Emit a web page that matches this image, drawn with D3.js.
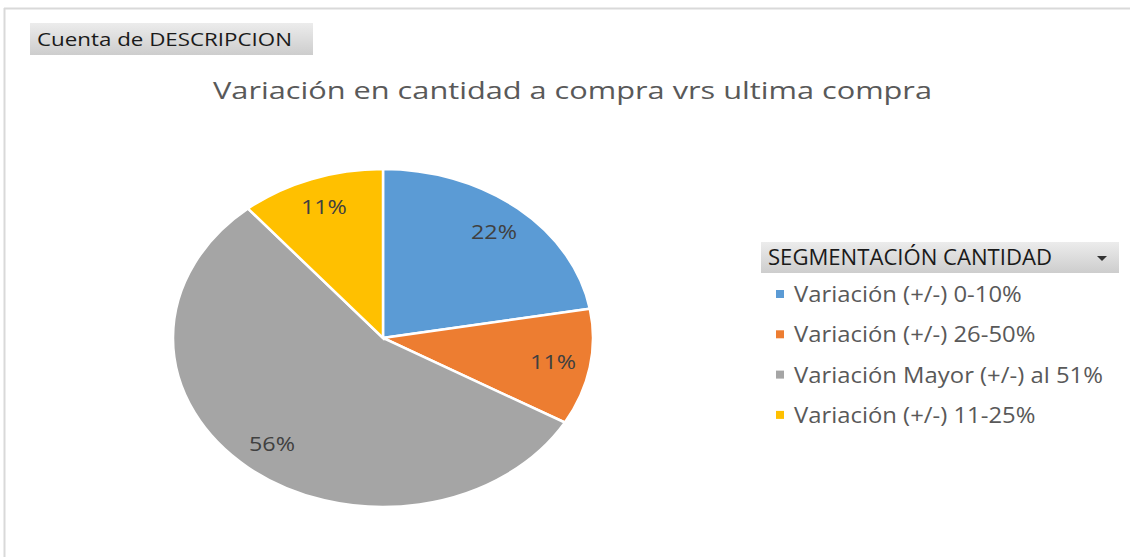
<!DOCTYPE html>
<html><head><meta charset="utf-8">
<script src="https://cdn.jsdelivr.net/npm/d3@7"></script>
<style>html,body{margin:0;padding:0;background:#fff;}svg{display:block;}</style>
</head><body>
<script>
const categories = ["Variación (+/-) 0-10%", "Variación (+/-) 26-50%", "Variación Mayor (+/-) al 51%", "Variación (+/-) 11-25%"];
const counts = [2, 1, 5, 1];
const colors = ["#5B9BD5", "#ED7D31", "#A5A5A5", "#FFC000"];
const chartTitle = "Variación en cantidad a compra vrs ultima compra";
const fieldLabel = "Cuenta de DESCRIPCION";
const legendTitle = "SEGMENTACIÓN CANTIDAD";

const W = 1130, H = 557;
const svg = d3.select("body").append("svg").attr("width", W).attr("height", H);
const defs = svg.append("defs");
const g1 = defs.append("linearGradient").attr("id","btn").attr("x1",0).attr("y1",0).attr("x2",0).attr("y2",1);
g1.append("stop").attr("offset","0%").attr("stop-color","#ececec");
g1.append("stop").attr("offset","100%").attr("stop-color","#cdcdcd");

// frame
svg.append("line").attr("x1",4).attr("x2",W).attr("y1",8.5).attr("y2",8.5).attr("stroke","#d9d9d9").attr("stroke-width",2);
svg.append("line").attr("x1",4.5).attr("x2",4.5).attr("y1",8).attr("y2",H).attr("stroke","#d9d9d9").attr("stroke-width",2);

const font = "'Open Sans', 'Noto Sans', sans-serif";

// field button
svg.append("rect").attr("x",30).attr("y",23).attr("width",283).attr("height",32).attr("fill","url(#btn)");
svg.append("text").attr("x",37).attr("y",46).attr("font-family",font).attr("font-size",18)
  .attr("fill","#1a1a1a").attr("textLength",255).attr("lengthAdjust","spacingAndGlyphs").text(fieldLabel);

// title
svg.append("text").attr("x",213).attr("y",99).attr("font-family",font).attr("font-size",24)
  .attr("fill","#595959").attr("textLength",719).attr("lengthAdjust","spacingAndGlyphs").text(chartTitle);

// pie
const cx = 383, cy = 338, ry = 169, rx = 210, sx = rx / ry;
const pie = d3.pie().sort(null).value(d => d)(counts);
const arc = d3.arc().innerRadius(0).outerRadius(ry);
const labelArc = d3.arc().innerRadius(139).outerRadius(139);
const total = d3.sum(counts);
const pg = svg.append("g").attr("transform", `translate(${cx},${cy}) scale(${sx},1)`);
pg.selectAll("path").data(pie).join("path")
  .attr("d", arc).attr("fill", (d,i) => colors[i])
  .attr("stroke","#fff").attr("stroke-width",2.5).attr("vector-effect","non-scaling-stroke");

svg.append("g").selectAll("text").data(pie).join("text")
  .attr("x", d => cx + labelArc.centroid(d)[0] * sx)
  .attr("y", d => cy + labelArc.centroid(d)[1] + 7)
  .attr("text-anchor","middle").attr("font-family",font).attr("font-size",20).attr("fill","#404040")
  .attr("textLength",46).attr("lengthAdjust","spacingAndGlyphs")
  .text(d => Math.round(d.value / total * 100) + "%");

// legend header
svg.append("rect").attr("x",761).attr("y",242).attr("width",358).attr("height",31).attr("fill","url(#btn)");
svg.append("text").attr("x",768).attr("y",265).attr("font-family",font).attr("font-size",21)
  .attr("fill","#1a1a1a").attr("textLength",284).attr("lengthAdjust","spacingAndGlyphs").text(legendTitle);
svg.append("path").attr("d","M1097,256 L1107,256 L1102,261 Z").attr("fill","#333");

// legend items
const lg = svg.append("g");
const items = lg.selectAll("g").data(categories).join("g")
  .attr("transform",(d,i) => `translate(0,${302 + i*40.3})`);
items.append("rect").attr("x",776).attr("y",-12).attr("width",8).attr("height",8).attr("fill",(d,i)=>colors[i]);
const txts = items.append("text").attr("x",0).attr("y",0).attr("font-family",font).attr("font-size",21)
  .attr("fill","#595959").text(d => d);
// uniform horizontal stretch derived from the widest item
const w3 = txts.nodes()[2].getComputedTextLength();
const k = 309 / w3;
txts.attr("transform", `translate(794,0) scale(${k},1)`);
</script>
</body></html>
